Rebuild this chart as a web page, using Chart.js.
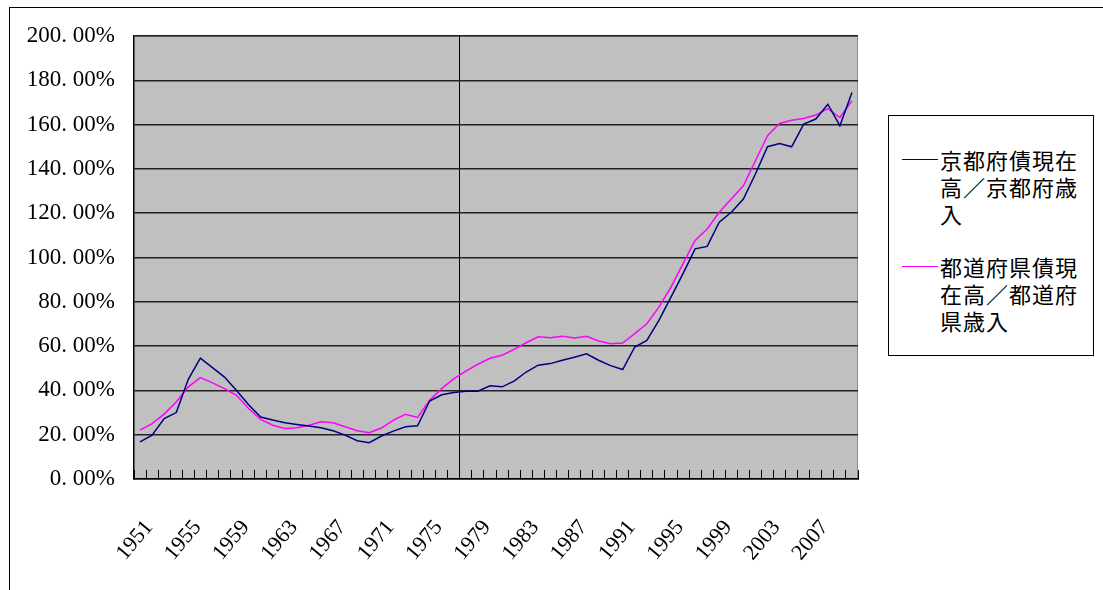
<!DOCTYPE html>
<html lang="ja">
<head>
<meta charset="utf-8">
<title>京都府債現在高／京都府歳入</title>
<script src="https://cdn.jsdelivr.net/npm/chart.js@4/dist/chart.umd.min.js"></script>
<style>
  html, body { margin: 0; padding: 0; background: #fff; }
  #wrap { position: relative; width: 1103px; height: 590px; overflow: hidden; }
  #frame { position: absolute; left: 9px; top: 7px; width: 1200px; height: 700px;
           border-left: 1px solid #000; border-top: 1px solid #000; }
  canvas { position: absolute; left: 0; top: 0; }
  #legend { position: absolute; left: 888px; top: 115px; width: 206px; height: 241px;
            border: 1px solid #000; background: #fff; padding-top: 30px; box-sizing: border-box; }
  .item { position: relative; margin-bottom: 26px; }
  .swatch { position: absolute; left: 13px; top: 13px; width: 36px; height: 0;
            border-top: 1.5px solid #000; }
  .text { margin-left: 51px; width: 142px; font-family: "Noto Sans CJK JP", sans-serif;
          font-size: 22px; line-height: 27px; letter-spacing: 1px; color: #000; }
</style>
</head>
<body>
<div id="wrap">
  <div id="frame"></div>
  <canvas id="chart" width="1103" height="590"></canvas>
  <div id="legend"></div>
</div>
<script>
// Fiscal years shown on the category axis
const years = [
  1951, 1952, 1953, 1954, 1955, 1956, 1957, 1958, 1959, 1960,
  1961, 1962, 1963, 1964, 1965, 1966, 1967, 1968, 1969, 1970,
  1971, 1972, 1973, 1974, 1975, 1976, 1977, 1978, 1979, 1980,
  1981, 1982, 1983, 1984, 1985, 1986, 1987, 1988, 1989, 1990,
  1991, 1992, 1993, 1994, 1995, 1996, 1997, 1998, 1999, 2000,
  2001, 2002, 2003, 2004, 2005, 2006, 2007, 2008, 2009, 2010
];

// Kyoto prefecture: outstanding bonds / revenue (%)
const kyotoRatio = [
  16.8, 19.8, 27.3, 30.0, 45.0, 54.6, 50.3, 46.0, 40.0, 33.5,
  28.0, 26.6, 25.4, 24.6, 23.9, 23.1, 21.8, 19.8, 17.3, 16.4,
  19.4, 21.6, 23.6, 24.0, 35.2, 38.0, 39.0, 39.6, 39.6, 42.1,
  41.6, 44.2, 48.3, 51.4, 52.1, 53.6, 55.0, 56.5, 53.6, 51.2,
  49.4, 59.6, 62.6, 71.6, 82.1, 92.7, 103.9, 105.0, 115.9, 120.4,
  126.4, 137.7, 150.0, 151.5, 150.0, 160.2, 162.5, 169.2, 159.5, 174.5
];

// All prefectures: outstanding bonds / revenue (%)
const prefRatio = [
  22.1, 25.0, 29.3, 34.8, 41.6, 45.8, 43.4, 40.8, 37.8, 31.8,
  26.9, 24.3, 22.8, 23.1, 24.3, 25.8, 25.4, 23.6, 21.8, 20.9,
  23.0, 26.6, 29.2, 27.8, 35.6, 40.8, 45.2, 48.7, 51.8, 54.5,
  55.9, 58.5, 61.5, 64.2, 63.8, 64.5, 63.7, 64.4, 62.3, 61.1,
  61.4, 65.6, 70.1, 77.6, 86.6, 97.2, 107.7, 112.9, 120.4, 126.4,
  132.4, 143.7, 155.0, 160.5, 162.0, 162.8, 164.3, 167.2, 163.2, 170.7
];

// Value axis range and label step
const yMin = 0;
const yMax = 200;
const yStep = 20;
const yearLabelStep = 4;

const seriesNames = ['京都府債現在高／京都府歳入', '都道府県債現在高／都道府県歳入'];

// Grey plot background with a light frame on the top and right sides
const plotFrame = {
  id: 'plotFrame',
  beforeDraw(chart) {
    const { ctx, chartArea: a } = chart;
    ctx.save();
    ctx.fillStyle = '#c0c0c0';
    ctx.fillRect(a.left, a.top, a.right - a.left, a.bottom - a.top);
    ctx.strokeStyle = '#8c8c8c';
    ctx.lineWidth = 1;
    ctx.beginPath();
    ctx.moveTo(a.left, a.top + 0.5);
    ctx.lineTo(a.right - 0.5, a.top + 0.5);
    ctx.lineTo(a.right - 0.5, a.bottom);
    ctx.stroke();
    ctx.restore();
  }
};

const yFont = { family: '"Liberation Serif", serif', size: 23 };
const xFont = { family: '"Liberation Serif", serif', size: 22 };

const chart = new Chart(document.getElementById('chart'), {
  type: 'line',
  data: {
    labels: years.map(String),
    datasets: [
      { label: seriesNames[0], data: kyotoRatio, borderColor: '#000080', borderWidth: 1.5,
        pointRadius: 0, tension: 0, fill: false },
      { label: seriesNames[1], data: prefRatio, borderColor: '#ff00ff', borderWidth: 1.5,
        pointRadius: 0, tension: 0, fill: false }
    ]
  },
  options: {
    responsive: false,
    devicePixelRatio: 1,
    animation: false,
    layout: { padding: { left: 0, top: 36, right: 245, bottom: 0 } },
    plugins: { legend: { display: false }, tooltip: { enabled: false } },
    scales: {
      x: {
        type: 'category',
        offset: true,
        grid: {
          offset: true,
          color: c => (c.index === 27 ? '#000' : 'rgba(0,0,0,0)'),
          lineWidth: 1,
          tickColor: '#000',
          tickLength: -9
        },
        border: { color: '#000', width: 1.5 },
        ticks: {
          autoSkip: false,
          minRotation: 50,
          maxRotation: 50,
          padding: 45,
          labelOffset: 9,
          color: '#000',
          font: xFont,
          callback: (v, i) => (i % yearLabelStep === 0 ? years[i] : '')
        },
        afterFit: s => { s.height = 111; }
      },
      y: {
        min: yMin,
        max: yMax,
        grid: { color: '#222', lineWidth: 1.5, drawTicks: false },
        border: { color: '#000', width: 1.5 },
        ticks: {
          stepSize: yStep,
          padding: 19,
          color: '#000',
          font: yFont,
          callback: v => v.toFixed(2).replace('.', '. ') + '%'
        },
        afterFit: s => { s.width = 134; }
      }
    }
  },
  plugins: [plotFrame]
});

// Legend box built from the chart's datasets
const legendEl = document.getElementById('legend');
chart.data.datasets.forEach(ds => {
  const item = document.createElement('div');
  item.className = 'item';
  const sw = document.createElement('span');
  sw.className = 'swatch';
  sw.style.borderTopColor = ds.borderColor;
  const tx = document.createElement('div');
  tx.className = 'text';
  tx.textContent = ds.label;
  item.appendChild(sw);
  item.appendChild(tx);
  legendEl.appendChild(item);
});
</script>
</body>
</html>
